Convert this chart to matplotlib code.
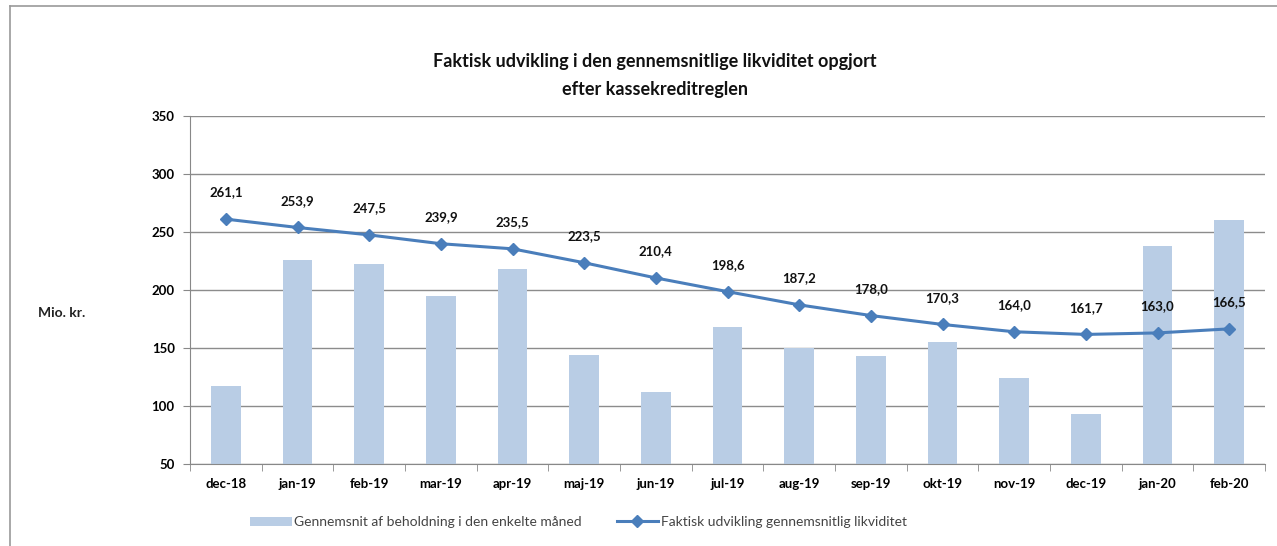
import matplotlib
matplotlib.use("Agg")
import matplotlib.pyplot as plt
from matplotlib.lines import Line2D
import numpy as np

months = ["dec-18", "jan-19", "feb-19", "mar-19", "apr-19", "maj-19", "jun-19", "jul-19",
          "aug-19", "sep-19", "okt-19", "nov-19", "dec-19", "jan-20", "feb-20"]
beholdning = [117, 226, 222, 195, 218, 144, 112, 168, 150, 143, 155, 124, 93, 238, 260]
likviditet = [261.1, 253.9, 247.5, 239.9, 235.5, 223.5, 210.4, 198.6, 187.2, 178.0,
              170.3, 164.0, 161.7, 163.0, 166.5]

plt.rcParams['font.family'] = ['Lato', 'DejaVu Sans']

bar_color = "#b9cde5"
line_color = "#4a7ebb"

fig = plt.figure(figsize=(12.77, 5.46), dpi=100)

# outer frame (only top and left edges are visible in the crop)
fy = 1 - 6 / 546
fx = 10 / 1277
fig.lines.append(Line2D([fx, 1], [fy, fy], transform=fig.transFigure,
                        color="#9a9a9a", linewidth=1.2))
fig.lines.append(Line2D([fx, fx], [0, fy], transform=fig.transFigure,
                        color="#9a9a9a", linewidth=1.2))

ax = fig.add_axes([190 / 1277, 1 - 464 / 546, (1265 - 190) / 1277, (464 - 116) / 546])

x = np.arange(len(months))
ax.bar(x, beholdning, width=0.41, color=bar_color, zorder=2,
       label="Gennemsnit af beholdning i den enkelte måned")
ax.plot(x, likviditet, color=line_color, linewidth=2.2, marker="D", markersize=6,
        zorder=3, label="Faktisk udvikling gennemsnitlig likviditet")

for xi, v in zip(x, likviditet):
    ax.annotate(f"{v:.1f}".replace(".", ","), (xi, v), xytext=(0, 15),
                textcoords="offset points", ha="center", va="bottom",
                fontsize=9.5, fontweight="bold", color="#111111")

ax.set_ylim(50, 350)
ax.set_yticks(range(50, 351, 50))
ax.set_xlim(-0.5, len(months) - 0.5)
ax.set_xticks(x)
ax.set_xticklabels(months, fontsize=9.5, fontweight="bold")
ax.set_xticks(np.arange(-0.5, len(months), 1), minor=True)
ax.tick_params(axis="x", which="major", length=0, pad=10)
ax.tick_params(axis="x", which="minor", length=5, color="#888888")
ax.tick_params(axis="y", length=5, color="#888888", labelsize=9.5, pad=6)
for lab in ax.get_yticklabels():
    lab.set_fontweight("bold")

ax.grid(axis="y", color="#8c8c8c", linewidth=1.0, zorder=0)
ax.set_axisbelow(True)
for s in ["top", "right"]:
    ax.spines[s].set_visible(False)
ax.spines["left"].set_color("#888888")
ax.spines["bottom"].set_color("#888888")

fig.text(62 / 1277, 1 - 313 / 546, "Mio. kr.", fontsize=10, fontweight="bold",
         ha="center", va="center", color="#222222")

fig.text(655 / 1277, 1 - 62 / 546, "Faktisk udvikling i den gennemsnitlige likviditet opgjort",
         fontsize=13, fontweight="bold", ha="center", va="center", color="#111111")
fig.text(655 / 1277, 1 - 89 / 546, "efter kassekreditreglen",
         fontsize=13, fontweight="bold", ha="center", va="center", color="#111111")

handles, labels = ax.get_legend_handles_labels()
order = [labels.index("Gennemsnit af beholdning i den enkelte måned"),
         labels.index("Faktisk udvikling gennemsnitlig likviditet")]
fig.legend([handles[i] for i in order], [labels[i] for i in order],
           loc="center", bbox_to_anchor=(0.453, 1 - 522 / 546), ncol=2, frameon=False,
           fontsize=10, handlelength=3, handleheight=0.6, columnspacing=2.5,
           handletextpad=0.2, labelcolor="#444444")

fig.savefig("out.png", dpi=100)
